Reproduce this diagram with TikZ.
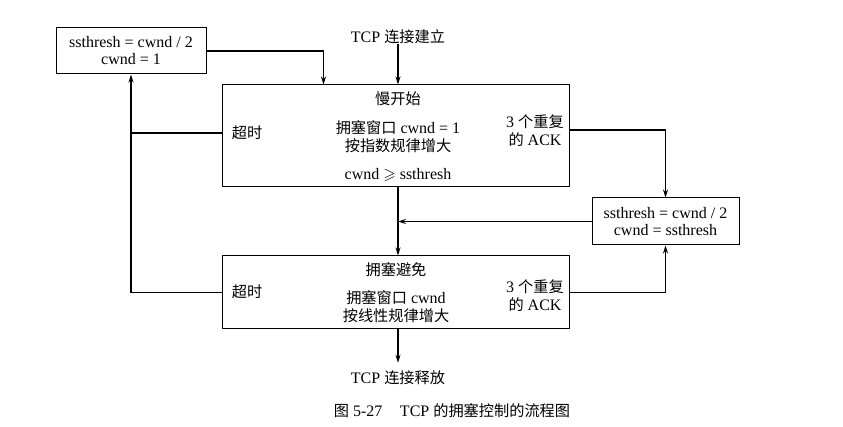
\documentclass[tikz,border=0pt]{standalone}
\usepackage{amssymb}
\usepackage{fontspec}
\setmainfont{Liberation Serif}
\newfontfamily\zh{Noto Sans CJK SC}[Scale=0.95]
\usetikzlibrary{arrows.meta}
\begin{document}
\begin{tikzpicture}[x=1pt,y=-1pt,
  every node/.style={font=\fontsize{16}{18}\selectfont, inner sep=0pt},
  box/.style={draw, line width=1pt, align=center},
  lbl/.style={align=center},
  flow/.style={line width=1.3pt, -{Stealth[length=8pt,width=5pt]}},
  link/.style={line width=1.3pt}]
\useasboundingbox (0,0) rectangle (843,427);

% state boxes
\node[box, minimum width=150, minimum height=46] (tl) at (131,51)
  {ssthresh = cwnd / 2\\[-1pt]cwnd = 1};
\node[box, minimum width=347, minimum height=102] (ss) at (395.5,136) {};
\node[box, minimum width=147, minimum height=47] (rb) at (665.5,221.5)
  {ssthresh = cwnd / 2\\[-1pt]cwnd = ssthresh};
\node[box, minimum width=347, minimum height=73] (ca) at (395.5,292.5) {};

% slow start texts
\node[lbl] (ssT) at (398,99) {\zh 慢开始};
\node[lbl] (ssB) at (398,137) {{\zh 拥塞窗口} cwnd = 1\\[0pt]{\zh 按指数规律增大}};
\node[lbl] (ssC) at (398,175) {cwnd $\geqslant$ ssthresh};
\node[lbl] (ssTO) at (247,133) {\zh 超时};
\node[lbl] (ssAck) at (535,131) {3 {\zh 个重复}\\[0pt]{\zh 的} ACK};

% congestion avoidance texts
\node[lbl] (caT) at (396,270) {\zh 拥塞避免};
\node[lbl] (caB) at (396,307) {{\zh 拥塞窗口} cwnd\\[0pt]{\zh 按线性规律增大}};
\node[lbl] (caTO) at (247,292) {\zh 超时};
\node[lbl] (caAck) at (535,296) {3 {\zh 个重复}\\[0pt]{\zh 的} ACK};

% start and end
\node[lbl] (start) at (398,37) {TCP {\zh 连接建立}};
\node[lbl] (stop) at (398,378) {TCP {\zh 连接释放}};
\coordinate (m) at (398,0);

% caption
\node[lbl] (cap) at (452,411) {{\zh 图} 5-27\hspace{1.1em}TCP {\zh 的拥塞控制的流程图}};

% connectors
\draw[flow] (start.south) -- (start.south |- ss.north);
\draw[flow] (tl.east) -| ([xshift=102pt]ss.north west);
\draw[link] ([yshift=3pt]ss.west) -- ([yshift=3pt]ss.west -| tl.south);
\draw[flow] (ca.west) -| (tl.south);
\draw[flow] ([yshift=6pt]ss.east) -| (rb.north);
\draw[flow] (rb.west) -- (rb.west -| m);
\draw[flow] (ss.south -| m) -- (ca.north -| m);
\draw[flow] (ca.east) -| (rb.south);
\draw[flow] (ca.south -| m) -- ([yshift=8pt]stop.north);
\end{tikzpicture}
\end{document}
